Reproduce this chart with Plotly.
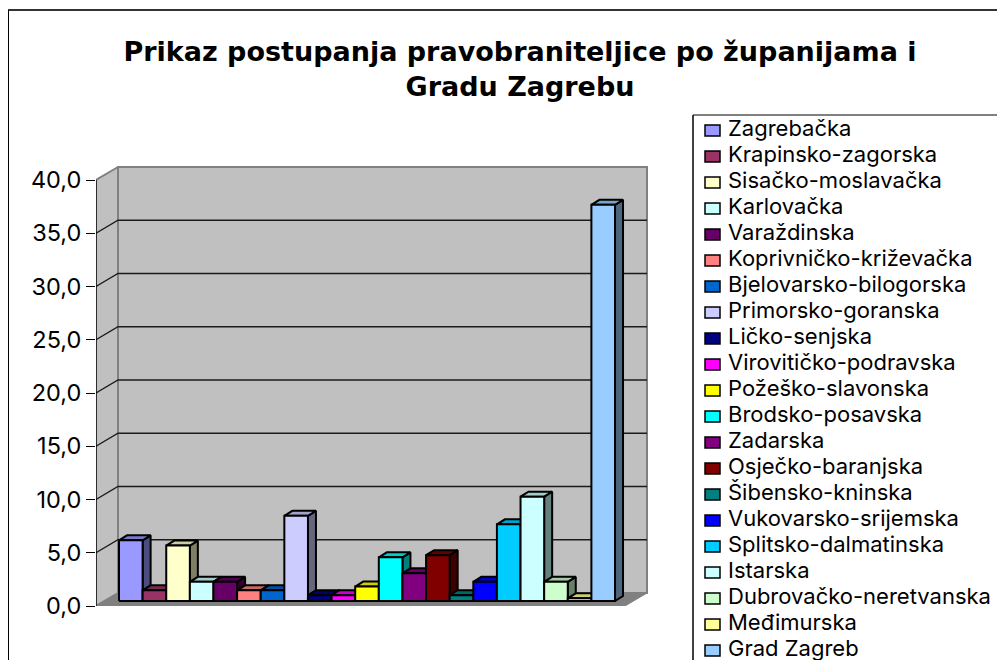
import plotly.graph_objects as go

# ---- data ----
zupanije = ["Zagrebačka", "Krapinsko-zagorska", "Sisačko-moslavačka", "Karlovačka", "Varaždinska",
            "Koprivničko-križevačka", "Bjelovarsko-bilogorska", "Primorsko-goranska", "Ličko-senjska",
            "Virovitičko-podravska", "Požeško-slavonska", "Brodsko-posavska", "Zadarska", "Osječko-baranjska",
            "Šibensko-kninska", "Vukovarsko-srijemska", "Splitsko-dalmatinska", "Istarska",
            "Dubrovačko-neretvanska", "Međimurska", "Grad Zagreb"]
postotci = [5.7, 1.0, 5.2, 1.8, 1.8, 1.0, 1.0, 8.0, 0.55, 0.55, 1.35, 4.1, 2.6, 4.3, 0.55, 1.8, 7.2, 9.8, 1.8, 0.25, 37.2]
boje = ["#9999FF", "#993366", "#FFFFCC", "#CCFFFF", "#660066", "#FF8080", "#0066CC", "#CCCCFF", "#000080",
        "#FF00FF", "#FFFF00", "#00FFFF", "#800080", "#800000", "#008080", "#0000FF", "#00CCFF", "#CCFFFF",
        "#CCFFCC", "#FFFF99", "#99CCFF"]
tick_vals = [0, 5, 10, 15, 20, 25, 30, 35, 40]
naslov = "Prikaz postupanja pravobraniteljice po županijama i<br>Gradu Zagrebu"

FONT = "Inter"
TITLE_FONT = "DejaVu Sans"
PAGE = 8                     # the page's own margin round the figure
W, H = 1005 - PAGE, 660 - PAGE
L, R, T, B = 96, 660, 150, 606   # plot area, in picture pixels
PXX, PXY = 23.62, 10.65      # pixels per category / per value unit


def px_x(p):
    return (p - 119) / PXX


def paper_x(p):
    return (p - L) / (R - L)


def paper_y(p):
    return (B - p) / (B - T)


def shade(hexcol, f):
    r, g, b = (int(hexcol[i:i + 2], 16) for i in (1, 3, 5))
    return f"rgb({int(r * f)},{int(g * f)},{int(b * f)})"


DX, DY = 22 / PXX, 13 / PXY      # depth of the floor in axis units
BX, BY = 8 / PXX, 5 / PXY        # depth of one bar in axis units
x_left, x_right = px_x(96), px_x(625)

fig = go.Figure()


def poly(xs, ys, fill, line, lw=1.0):
    fig.add_trace(go.Scatter(x=xs + xs[:1], y=ys + ys[:1], mode="lines", fill="toself", fillcolor=fill,
                             line=dict(color=line, width=lw), hoverinfo="skip", showlegend=False))


def seg(xs, ys, col, lw):
    fig.add_trace(go.Scatter(x=xs, y=ys, mode="lines", line=dict(color=col, width=lw),
                             hoverinfo="skip", showlegend=False))


top = tick_vals[-1]
# walls and floor
poly([x_left, x_left + DX, x_left + DX, x_left], [0, DY, top + DY, top], "#C0C0C0", "#808080", 2)
poly([x_left + DX, x_right + DX, x_right + DX, x_left + DX], [DY, DY, top + DY, top + DY], "#C0C0C0", "#808080", 2)
poly([x_left, x_left + DX, x_right + DX, x_right], [0, DY, DY, 0], "#808080", "#808080", 1)
# gridlines
for v in tick_vals[1:-1]:
    seg([x_left, x_left + DX, x_right + DX], [v, v + DY, v + DY], "#1a1a1a", 1.3)
# axis line
seg([x_left, x_left], [0, top], "#000000", 1.3)

# bars
for i, (name, val, col) in enumerate(zip(zupanije, postotci, boje)):
    y0, y1 = BY, BY + val
    poly([i + 1, i + 1 + BX, i + 1 + BX, i + 1], [y0, y0 + BY, y1 + BY, y1], shade(col, 0.5), "#000000", 2)
    poly([i, i + BX, i + 1 + BX, i + 1], [y1, y1 + BY, y1 + BY, y1], shade(col, 0.8), "#000000", 2)
    poly([i, i + 1, i + 1, i], [y0, y0, y1, y1], col, "#000000", 2)

shapes = []
annotations = []
# chart border and legend frame, both running off the picture
shapes.append(dict(type="line", xref="paper", yref="paper", x0=paper_x(7), x1=paper_x(1010), y0=paper_y(10), y1=paper_y(10),
                   line=dict(color="#333333", width=2)))
shapes.append(dict(type="line", xref="paper", yref="paper", x0=paper_x(8), x1=paper_x(8), y0=paper_y(10), y1=paper_y(665),
                   line=dict(color="#000000", width=2)))
shapes.append(dict(type="line", xref="paper", yref="paper", x0=paper_x(693), x1=paper_x(1010), y0=paper_y(115), y1=paper_y(115),
                   line=dict(color="#808080", width=2)))
shapes.append(dict(type="line", xref="paper", yref="paper", x0=paper_x(693), x1=paper_x(693), y0=paper_y(115), y1=paper_y(665),
                   line=dict(color="#000000", width=1.5)))
# legend
for i, (name, col) in enumerate(zip(zupanije, boje)):
    yc = 128 + 26 * i
    shapes.append(dict(type="rect", xref="paper", yref="paper", x0=paper_x(705), x1=paper_x(720),
                       y0=paper_y(yc + 8), y1=paper_y(yc - 3), fillcolor=col, line=dict(color="#000000", width=1.5)))
    annotations.append(dict(xref="paper", yref="paper", x=paper_x(727), y=paper_y(yc), text=name, showarrow=False,
                            xanchor="left", yanchor="middle", align="left", borderpad=0,
                            font=dict(family=FONT, size=22, color="#000000")))

fig.update_layout(
    width=W, height=H, autosize=False,
    margin=dict(l=L - PAGE, r=1005 - R, t=T - PAGE, b=660 - B, pad=0),
    paper_bgcolor="#FFFFFF", plot_bgcolor="rgba(0,0,0,0)",
    showlegend=False, separators=", ",
    title=dict(text=naslov, x=(520 - PAGE) / W, xanchor="center", y=1 - (61 - PAGE) / H, yanchor="middle",
               font=dict(family=TITLE_FONT, size=27, color="#000000", weight="bold")),
    xaxis=dict(range=[px_x(L), px_x(R)], visible=False, fixedrange=True),
    yaxis=dict(range=[0, (B - T) / PXY], tickvals=tick_vals, tickformat=".1f", ticks="outside", ticklen=9, tickwidth=1.3,
               tickcolor="#000000", showgrid=False, zeroline=False, showline=False, fixedrange=True,
               tickfont=dict(family=FONT, size=23.5, color="#000000")),
    shapes=shapes, annotations=annotations,
)
fig.write_html("out.html", config={"displayModeBar": False})
